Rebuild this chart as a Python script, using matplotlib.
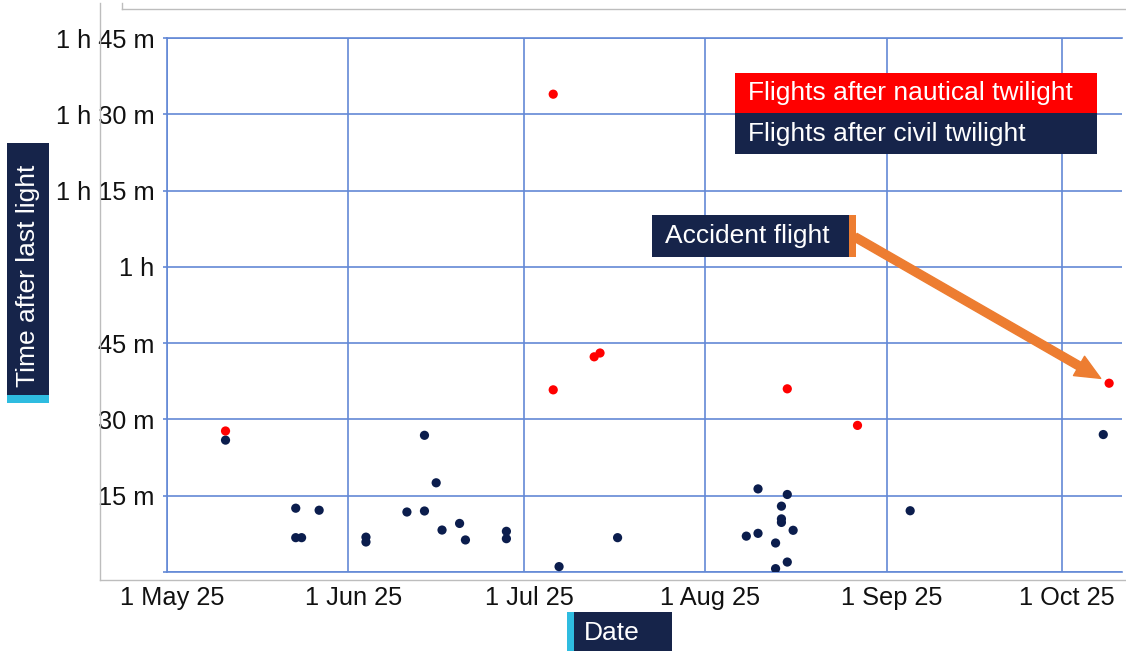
import numpy as np
import pandas as pd
import matplotlib
matplotlib.use('Agg')
from matplotlib import pyplot as plt
from matplotlib.patches import Rectangle
from matplotlib.lines import Line2D
import matplotlib.dates as mdates
from matplotlib.transforms import ScaledTranslation

# ---------------- data ----------------
civil_dates = ['2025-05-11', '2025-05-23', '2025-05-23', '2025-05-24', '2025-05-27',
               '2025-06-04', '2025-06-04', '2025-06-11', '2025-06-14', '2025-06-14',
               '2025-06-16', '2025-06-17', '2025-06-20', '2025-06-21', '2025-06-28',
               '2025-06-28', '2025-07-07', '2025-07-17', '2025-08-08', '2025-08-10',
               '2025-08-10', '2025-08-13', '2025-08-13', '2025-08-14', '2025-08-14',
               '2025-08-14', '2025-08-15', '2025-08-15', '2025-08-16', '2025-09-05',
               '2025-10-08']
civil_min = [25.9, 12.5, 6.7, 6.7, 12.1,
             6.8, 5.85, 11.75, 26.85, 11.95,
             17.5, 8.2, 9.5, 6.25, 7.95,
             6.5, 1.0, 6.7, 7.0, 16.3,
             7.55, 5.65, 0.6, 12.9, 10.4,
             9.7, 15.2, 1.9, 8.15, 12.0,
             27.0]

nautical_dates = ['2025-05-11', '2025-07-06', '2025-07-06', '2025-07-13',
                  '2025-07-14', '2025-08-15', '2025-08-27', '2025-10-09']
nautical_min = [27.7, 94.0, 35.8, 42.3, 43.05, 36.0, 28.8, 37.1]

accident_date = '2025-10-09'
accident_min = 37.1

x_ticks = ['2025-05-01', '2025-06-01', '2025-07-01', '2025-08-01', '2025-09-01', '2025-10-01']
x_tick_labels = ['1 May 25', '1 Jun 25', '1 Jul 25', '1 Aug 25', '1 Sep 25', '1 Oct 25']
y_ticks = [0, 15, 30, 45, 60, 75, 90, 105]
y_tick_labels = ['', '15 m', '30 m', '45 m', '1 h', '1 h 15 m', '1 h 30 m', '1 h 45 m']

# ---------------- style ----------------
W, H = 1126, 651
navy = '#16244A'
dot_navy = '#0B1D4D'
red = '#FF0000'
orange = '#ED7D31'
cyan = '#2EBCE0'
grid_c = '#6389D6'
frame_c = '#BDBDBD'
tick_fs = 18.3
box_fs = 19

plt.rcParams['font.family'] = ['Liberation Sans', 'DejaVu Sans']

fig = plt.figure(figsize=(W / 100, H / 100), dpi=100)


def fx(px):
    return px / W


def fy(py):
    return 1 - py / H


# plot area in pixels: left 167, right 1122, top 38.3, bottom 571.7
ax = fig.add_axes([fx(167), fy(571.7), fx(1122 - 167), (571.7 - 38.3) / H])

cd = mdates.date2num(pd.to_datetime(civil_dates))
nd = mdates.date2num(pd.to_datetime(nautical_dates))
xt = mdates.date2num(pd.to_datetime(x_ticks))

ax.scatter(cd, civil_min, s=44, color=dot_navy, edgecolors='none', zorder=3)
ax.scatter(nd, nautical_min, s=44, color=red, edgecolors='none', zorder=4)

ax.set_xlim(xt[0], xt[0] + 163.2)
ax.set_ylim(0, 105)
ax.set_xticks(xt)
ax.set_xticklabels(x_tick_labels)
ax.set_yticks(y_ticks)
ax.set_yticklabels(y_tick_labels)
ax.grid(True, color=grid_c, lw=1.2)
ax.set_axisbelow(True)

for side in ['left', 'bottom', 'top']:
    ax.spines[side].set_color(grid_c)
    ax.spines[side].set_linewidth(1.2)
ax.spines['right'].set_visible(False)

ax.tick_params(axis='y', length=3, color=grid_c, width=1.2, pad=6, labelsize=tick_fs, labelcolor='#111111')
ax.tick_params(axis='x', length=0, pad=10, labelsize=tick_fs, labelcolor='#111111')
for lab in ax.get_xticklabels():
    lab.set_transform(lab.get_transform() + ScaledTranslation(5 / 100, 0, fig.dpi_scale_trans))

# frame lines of the slide
fig.add_artist(Line2D([fx(100), fx(100)], [fy(3), fy(580)], color=frame_c, lw=1))
fig.add_artist(Line2D([fx(100), fx(1126)], [fy(580), fy(580)], color=frame_c, lw=1))
fig.add_artist(Line2D([fx(122), fx(1126)], [fy(9), fy(9)], color=frame_c, lw=1))
fig.add_artist(Line2D([fx(122), fx(122)], [fy(3), fy(9)], color=frame_c, lw=1))


def box(x0, y0, x1, y1, color, z=5):
    fig.add_artist(Rectangle((fx(x0), fy(y1)), fx(x1 - x0), (y1 - y0) / H,
                             facecolor=color, edgecolor='none', zorder=z))


# y label box
box(7, 143, 49, 395, navy)
box(7, 395, 49, 403, cyan)
fig.text(fx(28), fy(387), 'Time after last light', rotation=90, color='white',
         fontsize=box_fs, ha='center', va='bottom', zorder=6)

# x label box
box(567, 612, 574, 651, cyan)
box(574, 612, 672, 651, navy)
fig.text(fx(584), fy(633), 'Date', color='white', fontsize=box_fs, ha='left', va='center', zorder=6)

# legend boxes
box(735, 73, 1097, 113, red)
box(735, 113, 1097, 154, navy)
fig.text(fx(748), fy(93), 'Flights after nautical twilight', color='white', fontsize=box_fs,
         ha='left', va='center', zorder=6)
fig.text(fx(748), fy(134), 'Flights after civil twilight', color='white', fontsize=box_fs,
         ha='left', va='center', zorder=6)

# accident flight callout
box(652, 215, 849, 257, navy)
box(849, 215, 856, 257, orange)
fig.text(fx(665), fy(236), 'Accident flight', color='white', fontsize=box_fs,
         ha='left', va='center', zorder=6)

acc_x = mdates.date2num(pd.to_datetime(accident_date))
ax.annotate('', xy=(acc_x, accident_min), xycoords='data',
            xytext=(fx(855), fy(237)), textcoords='figure fraction',
            arrowprops=dict(arrowstyle='simple,head_length=0.9,head_width=0.8,tail_width=0.3',
                            color=orange, mutation_scale=20, shrinkA=0, shrinkB=7),
            annotation_clip=False, zorder=5)

fig.savefig('out.png', dpi=100)
